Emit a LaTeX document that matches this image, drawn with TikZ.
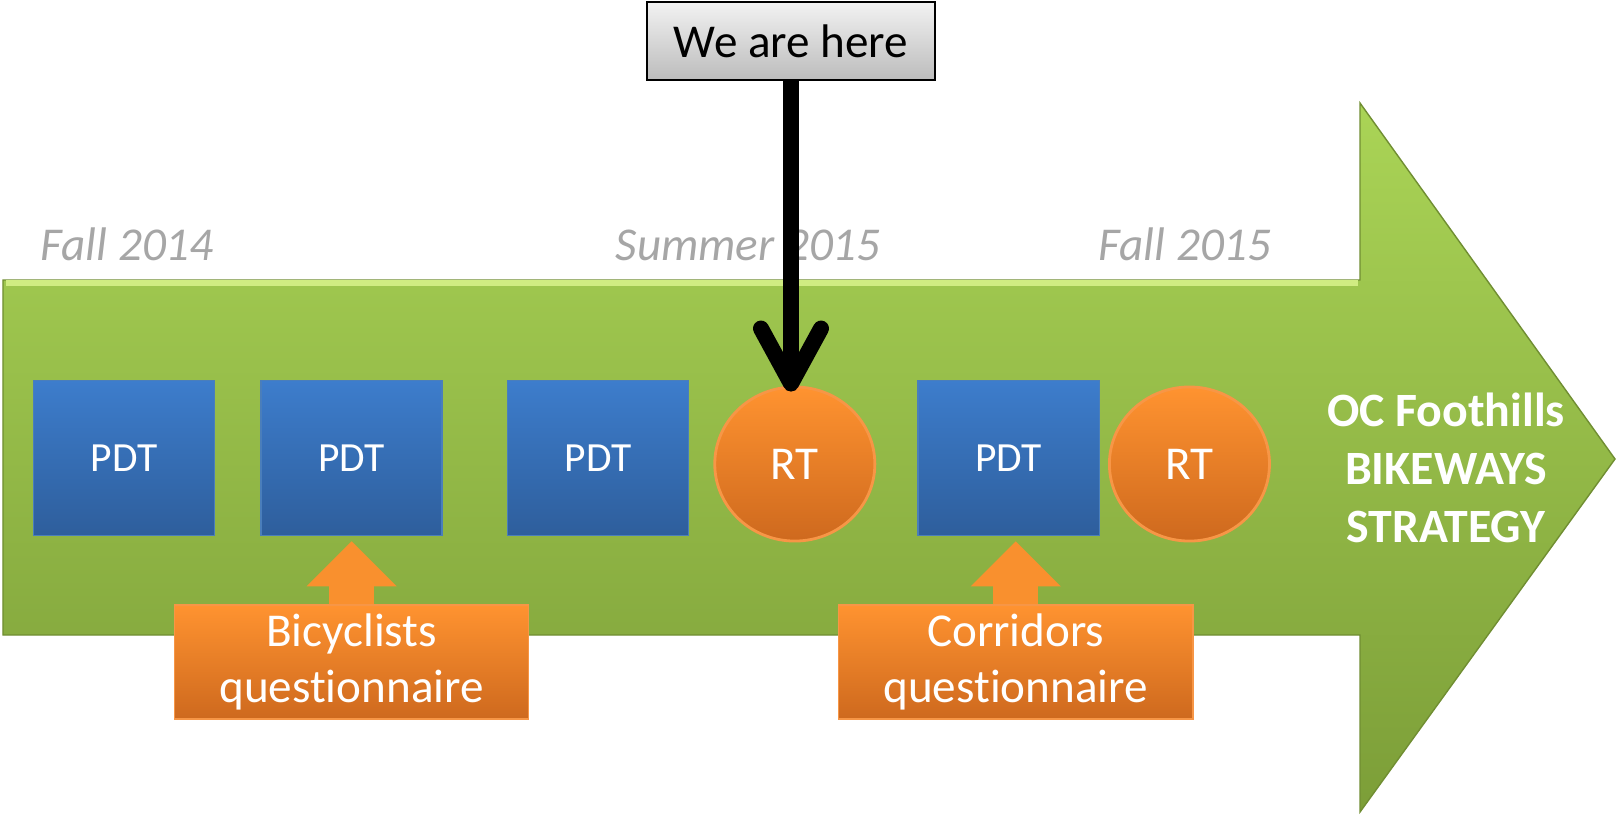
\documentclass[tikz,border=0pt]{standalone}
\usepackage{fontspec}
\setmainfont{Carlito}[Ligatures=NoCommon]
\usepackage{tikz}
\usetikzlibrary{shapes,arrows.meta,positioning,calc}

\definecolor{pdttop}{RGB}{61,125,204}
\definecolor{pdtbot}{RGB}{46,94,156}
\definecolor{pdtline}{RGB}{74,126,187}
\definecolor{ortop}{RGB}{255,147,48}
\definecolor{orbot}{RGB}{206,105,30}
\definecolor{orline}{RGB}{247,150,70}
\definecolor{orarrow}{RGB}{249,144,46}
\definecolor{gtop}{RGB}{170,212,86}
\definecolor{gbot}{RGB}{124,158,56}
\definecolor{gline}{RGB}{112,142,50}
\definecolor{glight}{RGB}{208,236,130}
\definecolor{datecol}{RGB}{166,166,166}

\begin{document}
\begin{tikzpicture}[x=0.01cm, y=-0.01cm, node distance=0.45cm,
    pdtbox/.style={rectangle, draw=pdtline, top color=pdttop, bottom color=pdtbot, text=white, minimum width=1.81cm, minimum height=1.55cm, font=\fontsize{11.8}{14}\selectfont},
    rtdot/.style={ellipse, draw=orline, line width=0.8pt, top color=ortop, bottom color=orbot, text=white, minimum width=1.6cm, minimum height=1.54cm, inner sep=0pt, font=\fontsize{13.4}{16}\selectfont},
    qbox/.style={rectangle, draw=orline, top color=ortop, bottom color=orbot, text=white, align=center, minimum width=3.54cm, minimum height=1.14cm, inner sep=0pt, font=\fontsize{13.4}{16}\selectfont},
    datelbl/.style={anchor=base west, text=datecol, inner sep=0pt, font=\fontsize{13.4}{16}\selectfont\itshape},
    herebox/.style={rectangle, draw=black, line width=0.8pt, top color={rgb,255:red,242;green,242;blue,242}, bottom color={rgb,255:red,188;green,188;blue,188}, minimum width=2.88cm, minimum height=0.78cm, font=\fontsize{13.4}{16}\selectfont},
    uparrow/.style={draw=orarrow, line width=0.45cm, -{Triangle[length=0.45cm, width=0.9cm, line width=0pt]}, shorten >=0.05cm}]
    \useasboundingbox (0,0) rectangle (1617,817);

    % big green arrow
    \path[draw=gline, top color=gtop, bottom color=gbot] (3,280) -- (1360,280) -- (1360,103) -- (1615,459) -- (1360,812) -- (1360,635) -- (3,635) -- cycle;
    \draw[glight, line width=1.5pt] (6,283) -- (1358,283);

    % dates
    \node[datelbl] (d1) at (40,260) {Fall 2014};
    \node[datelbl] (d2) at (615,260) {Summer 2015};
    \node[datelbl] (d3) at (1098,260) {Fall 2015};

    % meetings
    \node[pdtbox] (p1) at (124,458) {PDT};
    \node[pdtbox, right=of p1] (p2) {PDT};
    \node[pdtbox, right=0.64cm of p2] (p3) {PDT};
    \node[rtdot, right=0.24cm of p3, yshift=-0.06cm] (rt1) {RT};
    \node[pdtbox, right=2.28cm of p3] (p4) {PDT};
    \node[rtdot, right=0.08cm of p4, yshift=-0.06cm] (rt2) {RT};

    \node[text=white, align=center, font=\bfseries\fontsize{13.6}{16.5}\selectfont] (title) at (1446,468) {OC Foothills\\BIKEWAYS\\STRATEGY};

    % questionnaires
    \node[qbox, below=0.68cm of p2] (bq) {Bicyclists\\questionnaire};
    \node[qbox, below=0.68cm of p4, xshift=0.07cm] (cq) {Corridors\\questionnaire};
    \draw[uparrow] (bq.north) -- (p2.south);
    \draw[uparrow] (cq.north) -- (cq.north |- p4.south);

    % marker
    \node[herebox] (here) at (791,41) {We are here};
    \draw[line width=0.16cm, -{Straight Barb[length=0.55cm, width=0.6cm, round]}, shorten >=-0.06cm] (here.south) -- (here.south |- rt1.north);
\end{tikzpicture}
\end{document}
